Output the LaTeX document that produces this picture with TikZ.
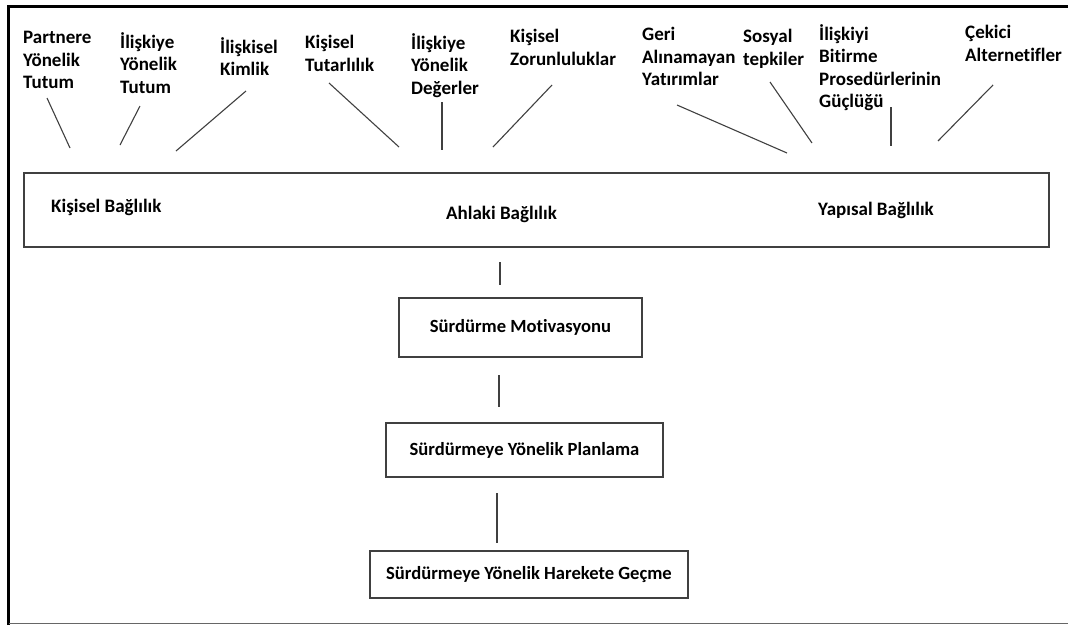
\documentclass[tikz,border=0pt]{standalone}
\usepackage{fontspec}
\setmainfont{Carlito}[Ligatures=NoCommon]
\usepackage{tikz}
\definecolor{myblack}{rgb}{0.000,0.000,0.000}
\definecolor{mygray}{rgb}{0.250,0.250,0.250}
\definecolor{myframegray}{rgb}{0.400,0.400,0.400}
\definecolor{mywhite}{rgb}{1.000,1.000,1.000}
\tikzstyle{toptext}=[anchor=north west,inner sep=0,align=left,font=\bfseries\fontsize{19}{22.5}\selectfont]
\tikzstyle{boxtext}=[anchor=west,inner sep=0,font=\bfseries\fontsize{19}{22.5}\selectfont]
\tikzstyle{bigbox}=[rectangle,draw=mygray,fill=mywhite,line width=1.2pt,minimum width=1025pt,minimum height=74pt]
\tikzstyle{stagebox}=[rectangle,draw=mygray,fill=mywhite,line width=1.2pt,inner sep=0,font=\bfseries\fontsize{18.6}{22.5}\selectfont]
\tikzstyle{edge}=[draw=mygray,line width=1.1pt]

\begin{document}
\begin{tikzpicture}[x=1pt,y=-1pt]
	\useasboundingbox (0,0) rectangle (1068,625);
	% frame
	\draw [myblack,line width=3pt] (8.5,625) -- (8.5,6.5) -- (1068,6.5);
	\draw [myframegray,line width=1.5pt] (8.5,623.5) -- (1068,623.5);

	% top labels
		\node [style=toptext] (0) at (23, 28) {\strut Partnere\\Yönelik\\Tutum};
		\node [style=toptext] (1) at (120, 32) {\strut İlişkiye\\Yönelik\\Tutum};
		\node [style=toptext] (2) at (220, 37) {\strut İlişkisel\\Kimlik};
		\node [style=toptext] (3) at (305, 33) {\strut Kişisel\\Tutarlılık};
		\node [style=toptext] (4) at (411, 33) {\strut İlişkiye\\Yönelik\\Değerler};
		\node [style=toptext] (5) at (510, 27) {\strut Kişisel\\Zorunluluklar};
		\node [style=toptext] (6) at (642, 25) {\strut Geri\\Alınamayan\\Yatırımlar};
		\node [style=toptext] (7) at (743, 27) {\strut Sosyal\\tepkiler};
		\node [style=toptext] (8) at (819, 24) {\strut İlişkiyi\\Bitirme\\Prosedürlerinin\\Güçlüğü};
		\node [style=toptext] (9) at (965, 23) {\strut Çekici\\Alternetifler};

	% line ends
		\coordinate (20) at (47, 98);    \coordinate (21) at (70, 148);
		\coordinate (22) at (140, 106);  \coordinate (23) at (120, 145);
		\coordinate (24) at (246, 91);   \coordinate (25) at (176, 151);
		\coordinate (26) at (329, 83);   \coordinate (27) at (399, 147);
		\coordinate (28) at (442, 102);  \coordinate (29) at (442, 150);
		\coordinate (30) at (552, 85);   \coordinate (31) at (493, 147);
		\coordinate (32) at (677, 105);  \coordinate (33) at (787, 153);
		\coordinate (34) at (770, 82);   \coordinate (35) at (812, 143);
		\coordinate (36) at (891, 107);  \coordinate (37) at (891, 146);
		\coordinate (38) at (993, 85);   \coordinate (39) at (938, 141);

	% commitment box
		\node [style=bigbox] (10) at (536.5, 210) {};
		\node [style=boxtext] (11) at (51, 207) {Kişisel Bağlılık};
		\node [style=boxtext] (12) at (446, 214) {Ahlaki Bağlılık};
		\node [style=boxtext] (13) at (818, 210) {Yapısal Bağlılık};

	% stages
		\node [style=stagebox,minimum width=243pt,minimum height=59pt] (14) at (520.5, 327.5) {Sürdürme Motivasyonu};
		\node [style=stagebox,minimum width=277pt,minimum height=54pt] (15) at (524.5, 450) {Sürdürmeye Yönelik Planlama};
		\node [style=stagebox,minimum width=318pt,minimum height=47pt] (16) at (529, 574.5) {Sürdürmeye Yönelik Harekete Geçme};
		\coordinate (40) at (500, 262);  \coordinate (41) at (500, 285);
		\coordinate (42) at (499, 375);  \coordinate (43) at (499, 407);
		\coordinate (44) at (497, 493);  \coordinate (45) at (497, 543);

		\draw [style=edge] (20) to (21);
		\draw [style=edge] (22) to (23);
		\draw [style=edge] (24) to (25);
		\draw [style=edge] (26) to (27);
		\draw [style=edge] (28) to (29);
		\draw [style=edge] (30) to (31);
		\draw [style=edge] (32) to (33);
		\draw [style=edge] (34) to (35);
		\draw [style=edge] (36) to (37);
		\draw [style=edge] (38) to (39);
		\draw [style=edge] (40) to (41);
		\draw [style=edge] (42) to (43);
		\draw [style=edge] (44) to (45);
\end{tikzpicture}
\end{document}
